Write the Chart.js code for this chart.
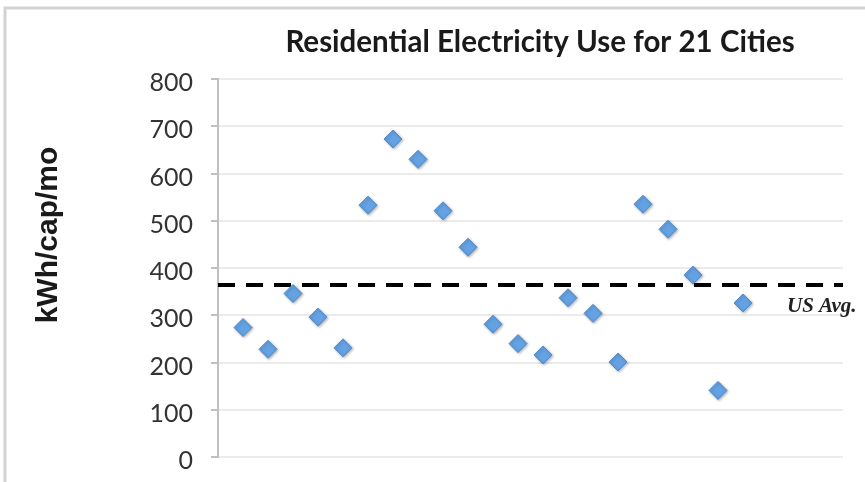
<!DOCTYPE html>
<html>
<head>
<meta charset="utf-8">
<script src="https://cdn.jsdelivr.net/npm/chart.js@4/dist/chart.umd.min.js"></script>
<style>
  html, body { margin: 0; padding: 0; background: #fff; }
  #wrap { width: 865px; height: 482px; position: relative; }
</style>
</head>
<body>
<div id="wrap"><canvas id="myChart"></canvas></div>
<script>
const chartTitle = "Residential Electricity Use for 21 Cities";
const yTitle = "kWh/cap/mo";
const avgLabel = "US Avg.";

const cities = [1, 2, 3, 4, 5, 6, 7, 8, 9, 10, 11, 12, 13, 14, 15, 16, 17, 18, 19, 20, 21];
const usage = [274, 228, 346, 296, 231, 533, 673, 630, 521, 444, 281, 240, 216, 337, 304, 201, 535, 482, 385, 141, 326];
const usAvgX = [0, 25];
const usAvg = [364, 364];

const textPlugin = {
  id: "textPlugin",
  beforeDraw: (chart) => {
    const ctx = chart.ctx;
    ctx.save();
    ctx.strokeStyle = "#d3d3d3";
    ctx.lineWidth = 3;
    ctx.strokeRect(5, 8, 920, 520);
    ctx.restore();
  },
  beforeDatasetDraw: (chart, args) => {
    if (args.index !== 0) return;
    const ctx = chart.ctx;
    ctx.save();
    ctx.shadowColor = "rgba(0,0,0,0.3)";
    ctx.shadowBlur = 3;
    ctx.shadowOffsetX = 1;
    ctx.shadowOffsetY = 1;
  },
  afterDatasetDraw: (chart, args) => {
    if (args.index !== 0) return;
    chart.ctx.restore();
  },
  afterDraw: (chart) => {
    const ctx = chart.ctx;
    ctx.save();
    ctx.fillStyle = "#1a1a1a";
    ctx.textAlign = "center";
    ctx.textBaseline = "middle";
    ctx.font = "bold 29.5px Lato";
    ctx.fillText(chartTitle, 540, 42);

    ctx.translate(49, 235);
    ctx.rotate(-Math.PI / 2);
    ctx.font = "bold 30px 'Liberation Sans'";
    ctx.fillText(yTitle, 0, 0);
    ctx.restore();

    ctx.save();
    const yPix = chart.scales.y.getPixelForValue(usAvg[0]);
    ctx.fillStyle = "#222";
    ctx.font = "italic bold 21px 'Liberation Serif'";
    ctx.textAlign = "left";
    ctx.textBaseline = "alphabetic";
    ctx.fillText(avgLabel, 787, yPix + 27);
    ctx.restore();
  },
};

const config = {
  type: "scatter",
  data: {
    datasets: [
      {
        label: "Cities",
        data: cities.map((c, i) => ({ x: c, y: usage[i] })),
        pointStyle: "rectRot",
        pointRadius: 9,
        pointHoverRadius: 9,
        backgroundColor: "#64a2e3",
        borderColor: "#4f8bcd",
        borderWidth: 1,
        order: 0,
      },
      {
        label: "US Avg",
        type: "line",
        data: usAvgX.map((x, i) => ({ x: x, y: usAvg[i] })),
        borderColor: "#000",
        borderWidth: 4,
        borderDash: [17, 11],
        pointRadius: 0,
        fill: false,
        order: 1,
      },
    ],
  },
  options: {
    responsive: true,
    maintainAspectRatio: false,
    animation: false,
    layout: { padding: { top: 79, right: 22, bottom: 25, left: 20 } },
    plugins: {
      legend: { display: false },
      tooltip: { enabled: false },
      title: { display: false },
    },
    scales: {
      x: { type: "linear", display: false, min: 0, max: 25 },
      y: {
        min: 0,
        max: 800,
        afterFit: (scale) => {
          scale.width = 198;
          scale.paddingTop = 0;
          scale.paddingBottom = 0;
        },
        ticks: {
          stepSize: 100,
          padding: 18,
          labelOffset: 4,
          color: "#333",
          font: { family: "Lato", size: 25 },
        },
        grid: {
          color: "#ebebeb",
          lineWidth: 2,
          tickColor: "#c0c0c0",
          tickLength: 7,
          tickWidth: 2,
        },
        border: { display: true, color: "#c0c0c0", width: 2 },
      },
    },
  },
  plugins: [textPlugin],
};

const ctx = document.querySelector("canvas#myChart").getContext("2d");
const myChart = new Chart(ctx, config);
</script>
</body>
</html>
